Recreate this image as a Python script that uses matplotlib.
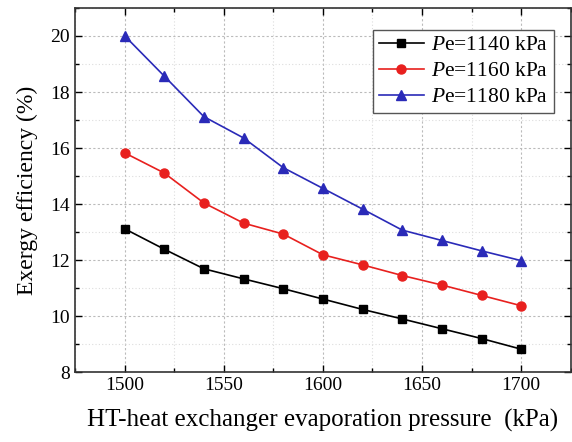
import matplotlib.pyplot as plt
from matplotlib.ticker import MultipleLocator

plt.rcParams['font.family'] = ['Liberation Serif', 'DejaVu Serif']
plt.rcParams['mathtext.fontset'] = 'custom'
plt.rcParams['mathtext.it'] = 'Liberation Serif:italic'
plt.rcParams['mathtext.rm'] = 'Liberation Serif'

# HT-heat exchanger evaporation pressure (kPa)
pressure = [1500, 1520, 1540, 1560, 1580, 1600, 1620, 1640, 1660, 1680, 1700]
# exergy efficiency (%)
eff_1140 = [13.12, 12.39, 11.69, 11.33, 10.98, 10.61, 10.24, 9.90, 9.55, 9.20, 8.82]
eff_1160 = [15.83, 15.11, 14.04, 13.32, 12.93, 12.19, 11.83, 11.45, 11.11, 10.74, 10.37]
eff_1180 = [20.01, 18.57, 17.12, 16.36, 15.30, 14.56, 13.82, 13.07, 12.70, 12.33, 11.98]
labels = ['$P$e=1140 kPa', '$P$e=1160 kPa', '$P$e=1180 kPa']

fig = plt.figure(figsize=(5.72, 4.42), dpi=100)
ax = fig.add_axes([0.131, 0.158, 0.867, 0.824])

ax.plot(pressure, eff_1140, color='black', marker='s', markersize=5.8, lw=1.2, label=labels[0])
ax.plot(pressure, eff_1160, color='#e8201e', marker='o', markersize=6.5, lw=1.2, label=labels[1])
ax.plot(pressure, eff_1180, color='#2a2ab8', marker='^', markersize=7, lw=1.2, label=labels[2])

ax.set_xlim(1475, 1725)
ax.set_ylim(8, 21)
ax.xaxis.set_major_locator(MultipleLocator(50))
ax.xaxis.set_minor_locator(MultipleLocator(25))
ax.yaxis.set_major_locator(MultipleLocator(2))
ax.yaxis.set_minor_locator(MultipleLocator(1))
ax.tick_params(which='both', direction='in', top=True, right=True, labelsize=14, width=1)
ax.tick_params(which='major', length=5)
ax.tick_params(which='minor', length=3)
ax.grid(which='major', color='#bbbbbb', linestyle=(0, (2, 2)), lw=0.8)
ax.grid(which='minor', color='#dddddd', linestyle=(0, (1, 2)), lw=0.8)
for s in ax.spines.values():
    s.set_linewidth(1.2)
    s.set_color('#333333')

ax.set_xlabel('HT-heat exchanger evaporation pressure  (kPa)', fontsize=18, labelpad=11)
ax.set_ylabel('Exergy efficiency (%)', fontsize=17, labelpad=9)

leg = ax.legend(loc='upper right', fontsize=15.5, fancybox=False, framealpha=1,
                edgecolor='#555555', handlelength=2.1, borderpad=0.25,
                labelspacing=0.28, handletextpad=0.35, borderaxespad=0,
                bbox_to_anchor=(0.966, 0.94))
leg.get_frame().set_linewidth(1.0)

fig.savefig('out.png', dpi=100)
